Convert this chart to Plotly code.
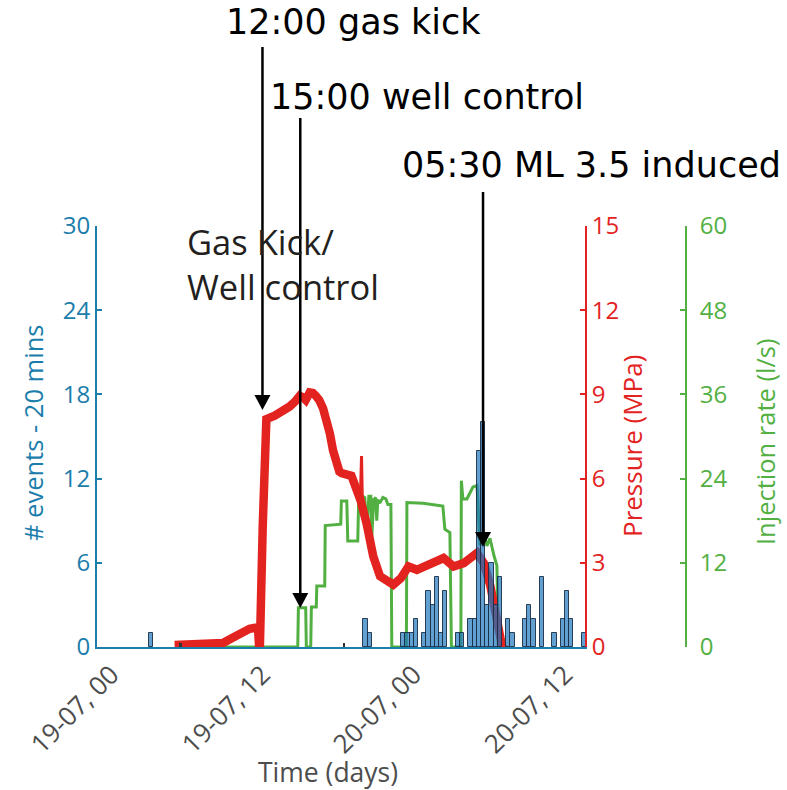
import pandas as pd
import plotly.graph_objects as go

# ---- data -------------------------------------------------------------
# time origin: 19 July 2013, 00:00 (St. Gallen geothermal well)
T0 = pd.Timestamp("2013-07-19 00:00")

# seismic events per 20-minute bin (bin number counted from T0)
event_bins = [9, 60, 61, 69, 70, 71, 72, 74, 75, 76, 77, 78, 79, 82, 83, 85, 86,
              87, 88, 89, 90, 91, 92, 94, 95, 98, 99, 100, 102, 105, 107, 108, 109, 112]
event_counts = [1, 2, 1, 1, 1, 1, 2, 1, 4, 3, 5, 1, 4, 1, 1, 2, 2,
                14, 16, 3, 6, 3, 5, 2, 1, 2, 3, 2, 5, 1, 2, 4, 2, 1]

# minor detections (very small bars)
minor_bins = [16, 55]
minor_counts = [0.25, 0.25]

# wellhead pressure (hours after T0, MPa)
pressure_hours = [5.03, 6.75, 8.86, 9.93, 10.98, 11.64, 11.78, 12.02, 12.31, 12.97,
                  13.6, 14.16, 14.6, 14.96, 15.2, 15.43, 15.75, 16.0, 16.23, 16.5,
                  16.81, 17.1, 17.35, 17.6, 17.87, 18.1, 18.27, 18.7, 19.06, 19.47,
                  19.8, 20.26, 20.79, 21.33, 21.8, 22.38, 22.98, 23.58, 24.25, 25.31,
                  26.37, 27.16, 27.97, 29.03, 29.56, 30.09, 30.62, 31.02, 31.42]
pressure_mpa = [0.07, 0.13, 0.14, 0.40, 0.65, 0.70, -0.30, 4.30, 8.12, 8.24,
                8.40, 8.57, 8.75, 8.95, 8.90, 8.80, 9.07, 9.05, 8.95, 8.80,
                8.50, 8.10, 7.60, 7.00, 6.50, 6.25, 6.20, 6.12, 6.10, 5.60,
                5.20, 4.40, 3.23, 2.52, 2.35, 2.22, 2.45, 2.87, 2.75, 2.99,
                3.17, 2.87, 2.99, 3.35, 2.99, 2.16, 0.86, 0.00, -0.16]

# brief pressure spike near 20:00
spike_hours = [19.78, 19.86, 19.93]
spike_mpa = [5.5, 6.8, 5.1]

# injection rate (hours after T0, l/s)
rate_hours = [8.88, 14.80, 14.85, 15.43, 15.48, 15.83, 15.88, 16.27, 16.31, 16.94,
              16.98, 17.87, 18.21, 18.26, 18.69, 18.77, 19.56, 19.64, 19.96, 20.12,
              20.28, 20.44, 20.60, 20.67, 20.83, 20.99, 21.07, 21.15, 21.31, 21.55,
              21.79, 21.95, 22.19, 22.26, 23.42, 23.46, 24.73, 26.31, 26.47, 26.87,
              26.99, 27.74, 27.78, 27.90, 28.22, 28.70, 29.02, 29.26, 29.57, 29.81,
              30.05, 30.37, 30.60, 30.72, 31.00]
rate_ls = [0, 0, 5.6, 5.6, 0, 0, 5.7, 5.7, 8.7, 8.7,
           17.3, 17.5, 17.5, 20.8, 20.8, 15.1, 15.1, 21.5, 21.5, 21.3,
           16.0, 21.5, 21.5, 15.5, 21.0, 21.3, 18.0, 21.0, 20.5, 21.3,
           21.1, 20.3, 20.3, 0, 0, 20.6, 20.5, 20.1, 16.8, 16.3,
           0, 0, 23.7, 21.1, 21.1, 22.8, 23.0, 14.5, 16.0, 14.4,
           15.5, 13.0, 11.6, 0, 0]

# x-axis ticks (hours after T0) and their labels
tick_hours = [0, 12, 24, 36]
tick_labels = ["19-07, 00", "19-07, 12", "20-07, 00", "20-07, 12"]

# annotated moments (hours after T0)
event_notes = ["12:00 gas kick", "15:00 well control", "05:30 ML 3.5 induced"]
event_note_hours = [12.0, 15.0, 29.5]

# ---- styling ----------------------------------------------------------
BLUE = "#1b7dab"
RED = "#e3231f"
GREEN = "#52b043"
GREY = "#4d4d4d"
FONT = "Open Sans"

PLOT_LEFT, PLOT_RIGHT, PLOT_TOP, PLOT_BOTTOM = 97, 585, 226, 647
M_L, M_R = 97, 30
PAPER_W = 787 - M_L - M_R
PLOT_H = PLOT_BOTTOM - PLOT_TOP


def t(h):
    return T0 + pd.to_timedelta(h, unit="h")


def ts(h):
    return t(h).strftime("%Y-%m-%d %H:%M:%S")


def px_x(px):
    return (px - M_L) / PAPER_W


def px_y(py):
    return (PLOT_BOTTOM - py) / PLOT_H


BIN_MS = 20 * 60 * 1000

fig = go.Figure()

# injection rate (bottom layer)
fig.add_trace(go.Scatter(
    x=[t(h) for h in rate_hours], y=rate_ls, mode="lines",
    line=dict(color=GREEN, width=3), yaxis="y", hoverinfo="skip"))

# pressure
fig.add_trace(go.Scatter(
    x=[t(h) for h in pressure_hours], y=pressure_mpa, mode="lines",
    line=dict(color=RED, width=8.5), yaxis="y2", hoverinfo="skip"))
fig.add_trace(go.Scatter(
    x=[t(h) for h in spike_hours], y=spike_mpa, mode="lines",
    line=dict(color=RED, width=3), yaxis="y2", hoverinfo="skip"))

# event histogram (top layer, semi-transparent)
fig.add_trace(go.Bar(
    x=[t(b / 3 + 1 / 6) for b in event_bins], y=event_counts,
    width=[BIN_MS] * len(event_bins),
    marker=dict(color="rgba(30,120,190,0.7)",
                line=dict(color="rgba(25,45,70,0.9)", width=1)),
    yaxis="y3", hoverinfo="skip"))
fig.add_trace(go.Bar(
    x=[t(b / 3 + 1 / 6) for b in minor_bins], y=minor_counts,
    width=[BIN_MS * 0.5] * len(minor_bins),
    marker=dict(color="#333333", line=dict(width=0)),
    yaxis="y3", hoverinfo="skip"))

x_dom_end = px_x(PLOT_RIGHT)
green_pos = px_x(686)

fig.update_layout(
    width=787, height=790,
    margin=dict(l=M_L, r=M_R, t=PLOT_TOP, b=790 - PLOT_BOTTOM),
    paper_bgcolor="white", plot_bgcolor="white",
    showlegend=False, bargap=0, barmode="overlay",
    font=dict(family=FONT, size=24),
    xaxis=dict(
        type="date", domain=[0, x_dom_end], anchor="y",
        range=[t(-1.128), t(37.59)],
        tickvals=[t(h) for h in tick_hours], ticktext=tick_labels,
        tickangle=-45, tickfont=dict(family=FONT, size=26, color=GREY),
        showline=True, linecolor=BLUE, linewidth=2, ticks="",
        showgrid=False, zeroline=False),
    yaxis=dict(
        range=[0, 60], tickvals=[0, 12, 24, 36, 48, 60],
        anchor="free", position=green_pos, side="right",
        showline=True, linecolor=GREEN, linewidth=2,
        ticks="inside", ticklen=5, tickwidth=2, tickcolor=GREEN,
        ticklabelstandoff=8,
        tickfont=dict(family=FONT, size=24, color=GREEN),
        showgrid=False, zeroline=False),
    yaxis2=dict(
        range=[0, 15], tickvals=[0, 3, 6, 9, 12, 15],
        overlaying="y", anchor="x", side="right",
        showline=True, linecolor=RED, linewidth=2,
        ticks="inside", ticklen=5, tickwidth=2, tickcolor=RED,
        tickfont=dict(family=FONT, size=24, color=RED),
        showgrid=False, zeroline=False),
    yaxis3=dict(
        range=[0, 30], tickvals=[0, 6, 12, 18, 24, 30],
        overlaying="y", anchor="x", side="left",
        showline=True, linecolor=BLUE, linewidth=2,
        ticks="inside", ticklen=5, tickwidth=2, tickcolor=BLUE,
        tickfont=dict(family=FONT, size=24, color=BLUE),
        showgrid=False, zeroline=False),
)

annotations = [
    dict(text="# events - 20 mins", x=px_x(33), y=px_y(433), textangle=-90,
         font=dict(family=FONT, size=25.5, color=BLUE)),
    dict(text="Pressure (MPa)", x=px_x(632), y=px_y(446), textangle=-90,
         font=dict(family=FONT, size=26, color=RED)),
    dict(text="Injection rate (l/s)", x=px_x(765), y=px_y(442), textangle=-90,
         font=dict(family=FONT, size=25.5, color=GREEN)),
    dict(text="Time (days)", x=px_x(328), y=px_y(772),
         font=dict(family=FONT, size=26.5, color=GREY)),
    dict(text="Gas Kick/<br>Well control", x=px_x(185), y=px_y(264),
         xanchor="left", align="left",
         font=dict(family=FONT, size=34.5, color="#231f20")),
]
note_centres = [(353, 22), (427, 97), (591, 165)]
for txt, (cx, cy) in zip(event_notes, note_centres):
    annotations.append(dict(text=txt, x=px_x(cx), y=px_y(cy),
                            font=dict(family="DejaVu Sans", size=35, color="black")))
for a in annotations:
    a.setdefault("xanchor", "center")
    a.update(xref="paper", yref="paper", yanchor="middle", showarrow=False)
fig.update_layout(annotations=annotations)

# arrows from the event notes down to the curves
arrow_tops = [47, 118, 192]
arrow_tips = [410, 608, 547]
shapes = []
for h, top, tip in zip(event_note_hours, arrow_tops, arrow_tips):
    shapes.append(dict(type="line", xref="x", yref="paper",
                       x0=ts(h), x1=ts(h), y0=px_y(top), y1=px_y(tip - 12),
                       line=dict(color="black", width=2.5), layer="above"))
    shapes.append(dict(type="path", xref="x", yref="paper",
                       xsizemode="pixel", ysizemode="pixel",
                       xanchor=ts(h), yanchor=px_y(tip),
                       path="M -8 15 L 8 15 L 0 0 Z",
                       fillcolor="black", line=dict(width=0), layer="above"))
fig.update_layout(shapes=shapes)

fig.write_html("out.html")
